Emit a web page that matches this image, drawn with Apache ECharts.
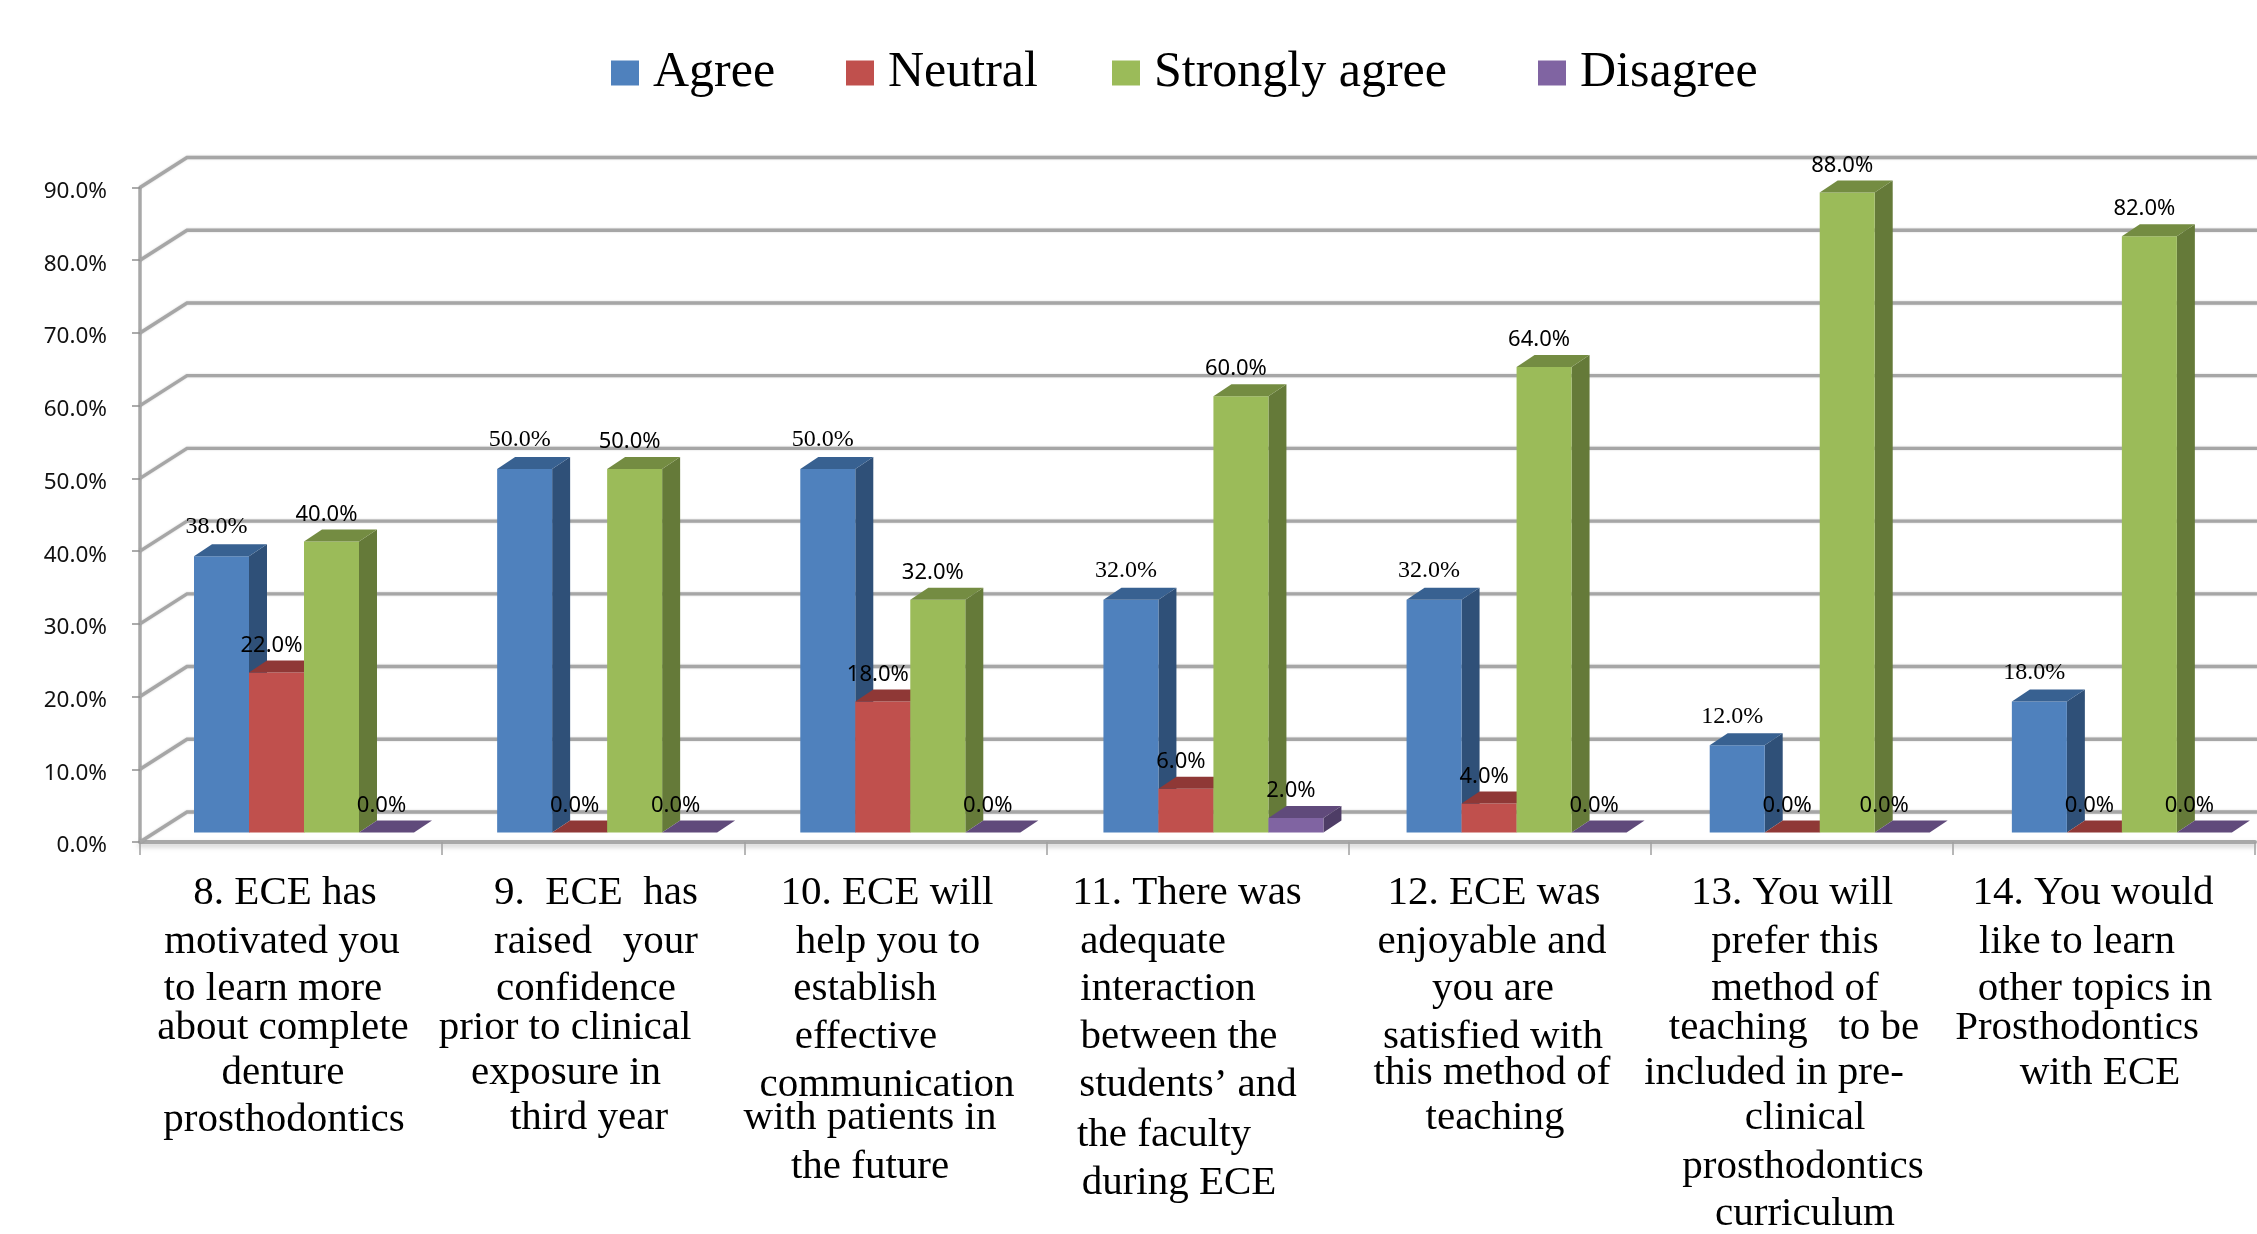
<!DOCTYPE html>
<html><head><meta charset="utf-8">
<style>html,body{margin:0;padding:0;background:#fff}#c{width:2257px;height:1234px}</style>
<script src="https://cdn.jsdelivr.net/npm/echarts@6/dist/echarts.min.js"></script>
</head><body><div id="c"></div>
<script>
const categories = ["8","9","10","11","12","13","14"];
const agree    = [38,50,50,32,32,12,18];
const neutral  = [22,0,18,6,4,0,0];
const strongly = [40,50,32,60,64,88,82];
const disagree = [0,0,0,2,0,0,0];
const yTicks = [0,10,20,30,40,50,60,70,80,90];
const categoryLines = [
 ["8. ECE has","motivated you","to learn more","about complete","denture","prosthodontics"],
 ["9.  ECE  has","raised   your","confidence","prior to clinical","exposure in","third year"],
 ["10. ECE will","help you to","establish","effective","communication","with patients in","the future"],
 ["11. There was","adequate","interaction","between the","students’ and","the faculty","during ECE"],
 ["12. ECE was","enjoyable and","you are","satisfied with","this method of","teaching"],
 ["13. You will","prefer this","method of","teaching   to be","included in pre-","clinical","prosthodontics","curriculum"],
 ["14. You would","like to learn","other topics in","Prosthodontics","with ECE"]
];
// layout of the label lines: centre x of each line and baseline y of each line
const lineCx = [
 [285,282,273,283,283,284],[596,596,586,565,566,589],[887,888,865,866,887,870,870],
 [1187,1153,1168,1179,1188,1164,1179],[1494,1492,1493,1493,1492,1495],
 [1792,1795,1795,1794,1774,1805,1803,1805],[2093,2077,2095,2077,2100]
];
const lineY = [
 [903,952,999,1038,1083,1130],[903,952,999,1038,1083,1128],[903,952,999,1047,1095,1128,1177],
 [903,952,999,1047,1095,1145,1193],[903,952,999,1047,1083,1128],
 [903,952,999,1038,1083,1128,1177,1224],[903,952,999,1038,1083]
];
const BAR_W=55, DX=18, DY=12, FLOOR=9.5, WALL_X=47, WALL_Y=30;
const labelDx = {"1-3":-14,"5-3":-18,"6-3":-15};

function barSeries(name, values, sIdx, front, top, side, labelFont, labelSize, labelLift){
  return {
    name, type:'custom', coordinateSystem:'cartesian2d', z:3,
    itemStyle:{color:front},
    data: values.map((v,i)=>[i,v]),
    renderItem(params, api){
      const i=api.value(0), v=api.value(1);
      const p=api.coord([i,v]), b=api.coord([i,0]);
      const band=api.size([1,0])[0];
      const x=p[0]-band/2+54+Math.min(i,5)+sIdx*BAR_W;
      const yt=p[1]-FLOOR, yb=b[1]-FLOOR, w=BAR_W;
      const ch=[];
      if(v>0){
        ch.push({type:'polygon',shape:{points:[[x+w,yt],[x+w+DX,yt-DY],[x+w+DX,yb-DY],[x+w,yb]]},style:{fill:side}});
        ch.push({type:'rect',shape:{x:x,y:yt,width:w,height:yb-yt},style:{fill:front}});
      }
      ch.push({type:'polygon',shape:{points:[[x,yt],[x+DX,yt-DY],[x+w+DX,yt-DY],[x+w,yt]]},style:{fill:top}});
      const dx=labelDx[i+'-'+sIdx]!==undefined?labelDx[i+'-'+sIdx]:-5;
      ch.push({type:'text',z2:100,style:{text:v.toFixed(1)+'%',x:x+w/2+dx,y:yt-labelLift,align:'center',verticalAlign:'middle',
        font:labelSize+'px "'+labelFont+'"',fill:'#000'}});
      return {type:'group',children:ch};
    }
  };
}

const wallSeries = {
  type:'custom', coordinateSystem:'cartesian2d', z:1, silent:true, legendHoverLink:false,
  data: yTicks.map(t=>[0,t]),
  renderItem(params, api){
    const t=api.value(1);
    const p=api.coord([0,t]);
    const band=api.size([1,0])[0];
    const x0=p[0]-band/2, y0=p[1];
    return {type:'polyline',shape:{points:[[x0,y0],[x0+WALL_X,y0-WALL_Y],[api.getWidth(),y0-WALL_Y]]},
      style:{fill:null,stroke:'#a6a6a6',lineWidth:3.4,shadowColor:'rgba(120,120,120,.35)',shadowBlur:2}};
  }
};

const legendFont={fontFamily:'"Liberation Serif"',fontSize:50,color:'#000'};
function lg(name,left){return {data:[name],left,top:43,icon:'rect',itemWidth:28,itemHeight:25,itemGap:0,textStyle:{...legendFont,padding:[0,0,0,9]}};}

const chart=echarts.init(document.getElementById('c'),null,{renderer:'canvas'});
const texts=[];
categoryLines.forEach((ls,g)=>ls.forEach((t,k)=>{
  texts.push({type:'text',z:5,x:lineCx[g][k],y:lineY[g][k]-10,style:{text:t,align:'center',verticalAlign:'middle',
    font:'41px "Liberation Serif"',fill:'#000'}});
}));
chart.setOption({
  animation:false,backgroundColor:'#fff',
  legend:[lg('Agree',606),lg('Neutral',841),lg('Strongly agree',1107),lg('Disagree',1533)],
  grid:{left:140,right:2,top:187.5,bottom:392,containLabel:false},
  xAxis:{type:'category',data:categories,boundaryGap:true,
    axisLine:{show:true,lineStyle:{color:'#a8a8a8',width:4,shadowColor:'rgba(150,150,150,.5)',shadowBlur:5,shadowOffsetY:3}},
    axisTick:{show:true,length:13,alignWithLabel:false,lineStyle:{color:'#a0a0a0',width:1.5}},
    axisLabel:{show:false},splitLine:{show:false}},
  yAxis:{type:'value',min:0,max:90,interval:10,
    axisLine:{show:true,lineStyle:{color:'#a8a8a8',width:3.5}},
    axisTick:{show:true,length:8,lineStyle:{color:'#909090',width:1.5}},
    axisLabel:{formatter:v=>v.toFixed(1)+'%',fontFamily:'"Noto Sans"',fontSize:22.5,color:'#111',margin:33,verticalAlign:'top',lineHeight:8},
    splitLine:{show:false}},
  series:[wallSeries,
    barSeries('Agree',agree,0,'#4f81bd','#386191','#2f5078','Liberation Serif',24,29),
    barSeries('Neutral',neutral,1,'#c0504d','#8f3836','#7c3331','Noto Sans',22,27),
    barSeries('Strongly agree',strongly,2,'#9bbb59','#748c42','#657a39','Noto Sans',22,27),
    barSeries('Disagree',disagree,3,'#8064a2','#604a7b','#4e3d66','Noto Sans',22,27)
  ],
  graphic:texts
});
</script></body></html>
